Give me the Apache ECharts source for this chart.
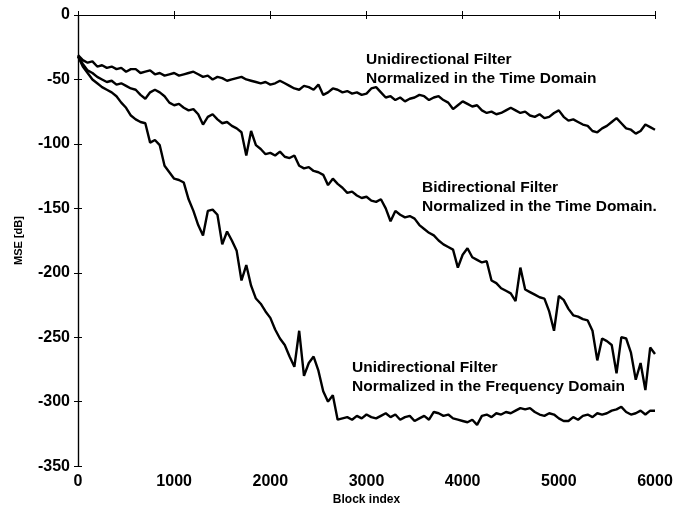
<!DOCTYPE html>
<html>
<head>
<meta charset="utf-8">
<script src="https://cdn.jsdelivr.net/npm/echarts@6/dist/echarts.min.js"></script>
<style>
  html, body { margin: 0; padding: 0; background: #fff; }
  #chart { width: 700px; height: 511px; }
</style>
</head>
<body>
<div id="chart"></div>
<script>
// block index, every 50 blocks
const blocks = []
for (let b = 0; b <= 6000; b += 50) blocks.push(b)

// Unidirectional filter, normalized in the time domain
const uniTime = [
  -31, -35, -37, -36, -40, -39, -41, -40, -42, -41, -44, -42, -42, -45, -44, -43, -46, -45, -47, -46,
  -45, -47, -46, -45, -44, -46, -48, -47, -50, -48, -49, -51, -50, -49, -48, -50, -51, -52, -53, -52,
  -54, -53, -51, -53, -55, -57, -58, -55, -56, -58, -54, -62, -60, -57, -58, -60, -59, -61, -60, -62,
  -61, -57, -56, -60, -64, -63, -66, -64, -67, -65, -64, -62, -63, -66, -64, -63, -66, -68, -73, -70,
  -67, -69, -71, -70, -74, -76, -75, -77, -76, -74, -72, -74, -76, -75, -78, -79, -77, -80, -79, -76,
  -74, -79, -82, -81, -83, -85, -86, -90, -91, -88, -86, -83, -80, -84, -88, -89, -92, -90, -85, -87,
  -89
]

// Bidirectional filter, normalized in the time domain
const biTime = [
  -32, -38, -43, -45, -48, -50, -52, -51, -54, -53, -55, -57, -58, -62, -65, -60, -58, -60, -63, -68,
  -70, -69, -72, -74, -73, -77, -85, -79, -77, -81, -84, -83, -86, -88, -91, -109, -90, -101, -104, -108,
  -107, -109, -106, -110, -111, -109, -117, -119, -118, -121, -122, -124, -132, -127, -131, -134, -138, -137, -140, -142,
  -141, -144, -145, -143, -150, -160, -152, -155, -157, -156, -158, -163, -166, -169, -171, -175, -178, -180, -182, -196,
  -186, -181, -188, -190, -192, -191, -206, -208, -212, -214, -216, -222, -196, -213, -215, -217, -219, -220, -230, -245,
  -218, -221, -228, -233, -234, -236, -237, -245, -268, -251, -253, -256, -278, -250, -251, -262, -283, -270, -291, -258,
  -263
]

// Unidirectional filter, normalized in the frequency domain
const uniFreq = [
  -32, -40, -45, -50, -53, -56, -58, -60, -63, -68, -72, -78, -81, -83, -84, -99, -97, -101, -117, -122,
  -127, -128, -130, -143, -152, -163, -171, -152, -151, -155, -178, -168, -175, -183, -206, -194, -210, -220, -224, -230,
  -235, -244, -251, -256, -265, -273, -245, -280, -270, -265, -276, -292, -300, -295, -314, -313, -312, -314, -311, -313,
  -310, -312, -313, -311, -309, -312, -310, -314, -312, -311, -315, -313, -311, -314, -308, -309, -311, -310, -313, -314,
  -315, -316, -314, -318, -311, -310, -312, -309, -310, -308, -309, -307, -305, -306, -305, -308, -310, -311, -309, -310,
  -313, -315, -315, -312, -314, -311, -310, -312, -309, -310, -309, -307, -306, -304, -308, -310, -309, -307, -310, -307,
  -307
]

const xTicks = [0, 1000, 2000, 3000, 4000, 5000, 6000]
const yTicks = [0, -50, -100, -150, -200, -250, -300, -350]

const labelFont = 'Liberation Sans, Arial, sans-serif'
const pairs = arr => blocks.map((b, i) => [b, arr[i]])

const chart = echarts.init(document.getElementById('chart'))

const lineSeries = (name, arr) => ({
  name,
  type: 'line',
  data: pairs(arr),
  showSymbol: false,
  lineStyle: { color: '#000', width: 2.4 },
  animation: false
})

const frameAxis = {
  axisLine: { show: true, lineStyle: { color: '#000', width: 1.2 } },
  axisTick: { show: true, inside: true, length: 4, lineStyle: { color: '#000' } },
  splitLine: { show: false }
}

chart.setOption({
  backgroundColor: '#fff',
  grid: { left: 78, right: 45, top: 15, bottom: 41 },
  xAxis: [
    {
      type: 'value', min: 0, max: 6000, interval: 1000,
      name: 'Block index', nameLocation: 'middle', nameGap: 26,
      nameTextStyle: { fontFamily: labelFont, fontWeight: 'bold', fontSize: 12, color: '#000' },
      axisLabel: {
        fontFamily: labelFont, fontWeight: 'bold', fontSize: 16, color: '#000', margin: 7,
        formatter: v => (xTicks.includes(v) ? String(v) : '')
      },
      ...frameAxis
    },
    {
      type: 'value', min: 0, max: 6000, interval: 1000, position: 'top',
      axisLabel: { show: false },
      ...frameAxis
    }
  ],
  yAxis: [
    {
      type: 'value', min: -350, max: 0, interval: 50,
      name: 'MSE [dB]', nameLocation: 'middle', nameGap: 54,
      nameTextStyle: { fontFamily: labelFont, fontWeight: 'bold', fontSize: 11, color: '#000' },
      axisLabel: {
        fontFamily: labelFont, fontWeight: 'bold', fontSize: 16, color: '#000', margin: 8,
        formatter: v => (yTicks.includes(v) ? String(v) : '')
      },
      ...frameAxis
    },
    {
      type: 'value', min: -350, max: 0, interval: 50, position: 'right',
      axisLabel: { show: false },
      ...frameAxis
    }
  ],
  series: [
    lineSeries('Unidirectional Filter, Time Domain', uniTime),
    lineSeries('Bidirectional Filter, Time Domain', biTime),
    lineSeries('Unidirectional Filter, Frequency Domain', uniFreq)
  ],
  graphic: [
    {
      type: 'text', left: 366, top: 50,
      style: {
        text: 'Unidirectional Filter\nNormalized in the Time Domain',
        font: 'bold 15.5px ' + labelFont, fill: '#000', lineHeight: 19
      }
    },
    {
      type: 'text', left: 422, top: 178,
      style: {
        text: 'Bidirectional Filter\nNormalized in the Time Domain.',
        font: 'bold 15.5px ' + labelFont, fill: '#000', lineHeight: 19
      }
    },
    {
      type: 'text', left: 352, top: 358,
      style: {
        text: 'Unidirectional Filter\nNormalized in the Frequency Domain',
        font: 'bold 15.5px ' + labelFont, fill: '#000', lineHeight: 19
      }
    }
  ]
})
</script>
</body>
</html>
